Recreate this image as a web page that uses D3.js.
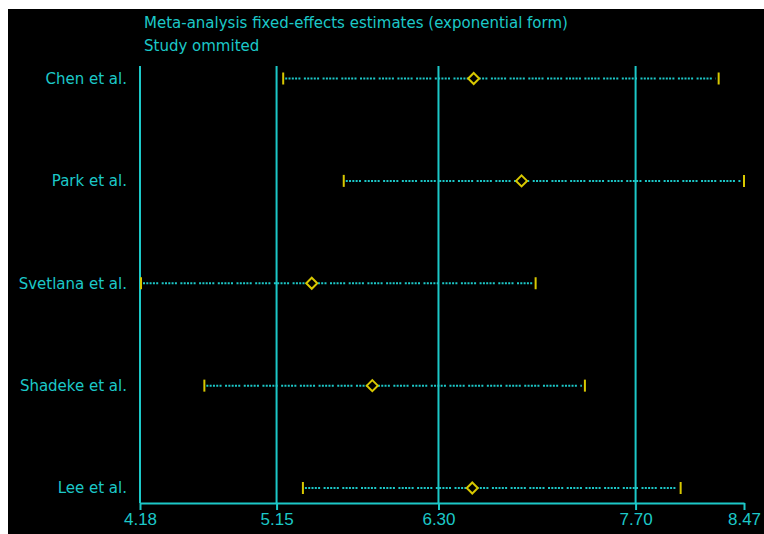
<!DOCTYPE html>
<meta charset="utf-8">
<head>
<style>
body { margin: 0; background: #fff; }
svg { display: block; }
.label { fill: #1cc8c8; font-family: "DejaVu Sans", sans-serif; font-size: 15px; }
.tick text { fill: #1cc8c8; font-family: "Liberation Sans Narrow", "Liberation Sans", sans-serif; font-size: 17px; }
</style>
</head>
<body>
<script src="https://d3js.org/d3.v7.min.js"></script>
<script>

// studies, top to bottom
var studies = ["Chen et al.", "Park et al.", "Svetlana et al.", "Shadeke et al.", "Lee et al."];
var lower = [5.19, 5.62, 4.18, 4.63, 5.33];
var estimate = [6.55, 6.89, 5.40, 5.83, 6.54];
var upper = [8.29, 8.47, 6.99, 7.34, 8.02];
var tickValues = [4.18, 5.15, 6.30, 7.70, 8.47];

var cyan = "#1cc8c8",
    yellow = "#d8c800";

var W = 764, H = 534;
var margin = {top: 66, right: 20, bottom: 31, left: 140},
    width = 744 - margin.left,
    height = 503 - margin.top;

var svg = d3.select("body").append("svg")
    .attr("width", W)
    .attr("height", H);

// black panel
svg.append("rect")
    .attr("x", 8).attr("y", 9)
    .attr("width", W - 8).attr("height", H - 9)
    .attr("fill", "#000");

svg.append("text").attr("class", "label")
    .attr("x", 144).attr("y", 28)
    .text("Meta-analysis fixed-effects estimates (exponential form)");
svg.append("text").attr("class", "label")
    .attr("x", 144).attr("y", 51)
    .text("Study ommited");

var g = svg.append("g")
    .attr("transform", "translate(" + margin.left + "," + margin.top + ")");

var x = d3.scaleLinear().domain([4.18, 8.47]).range([0, width]);
var y = d3.scalePoint().domain(studies).range([12.5, 422]);

// vertical reference lines at the tick values
g.selectAll(".vline")
    .data(tickValues.slice(0, 4))
  .enter().append("line")
    .attr("class", "vline")
    .attr("x1", d => x(d)).attr("x2", d => x(d))
    .attr("y1", 0).attr("y2", height)
    .attr("stroke", cyan).attr("stroke-width", 2);

// x axis
var xAxis = g.append("g")
    .attr("transform", "translate(0," + height + ")")
    .call(d3.axisBottom(x).tickValues(tickValues).tickFormat(d3.format(".2f")).tickSize(7).tickSizeOuter(0).tickPadding(3));
xAxis.select(".domain").attr("stroke", cyan).attr("stroke-width", 2);
xAxis.selectAll(".tick line").attr("stroke", cyan).attr("stroke-width", 2);

// study labels
g.selectAll(".study")
    .data(studies)
  .enter().append("text")
    .attr("class", "label")
    .attr("x", -13)
    .attr("y", d => y(d))
    .attr("dy", "0.35em")
    .attr("text-anchor", "end")
    .text(d => d);

// confidence intervals
var rows = g.selectAll(".row")
    .data(studies)
  .enter().append("g")
    .attr("transform", d => "translate(0," + y(d) + ")");

rows.append("line")
    .attr("x1", (d, i) => x(lower[i]) + 3)
    .attr("x2", (d, i) => x(upper[i]) - 3)
    .attr("stroke", cyan).attr("stroke-width", 2)
    .attr("stroke-dasharray", "2 1.3 2 1.3 2 1.3 2 1.3 2 3.5");

rows.append("line")
    .attr("x1", (d, i) => x(lower[i]) + 1).attr("x2", (d, i) => x(lower[i]) + 1)
    .attr("y1", -6).attr("y2", 6)
    .attr("stroke", yellow).attr("stroke-width", 2);
rows.append("line")
    .attr("x1", (d, i) => x(upper[i])).attr("x2", (d, i) => x(upper[i]))
    .attr("y1", -6).attr("y2", 6)
    .attr("stroke", yellow).attr("stroke-width", 2);

// point estimates
rows.append("path")
    .attr("d", "M0,-5.5L5.5,0L0,5.5L-5.5,0Z")
    .attr("transform", (d, i) => "translate(" + x(estimate[i]) + ",0)")
    .attr("fill", "#000")
    .attr("stroke", yellow).attr("stroke-width", 2);

</script>
</body>
